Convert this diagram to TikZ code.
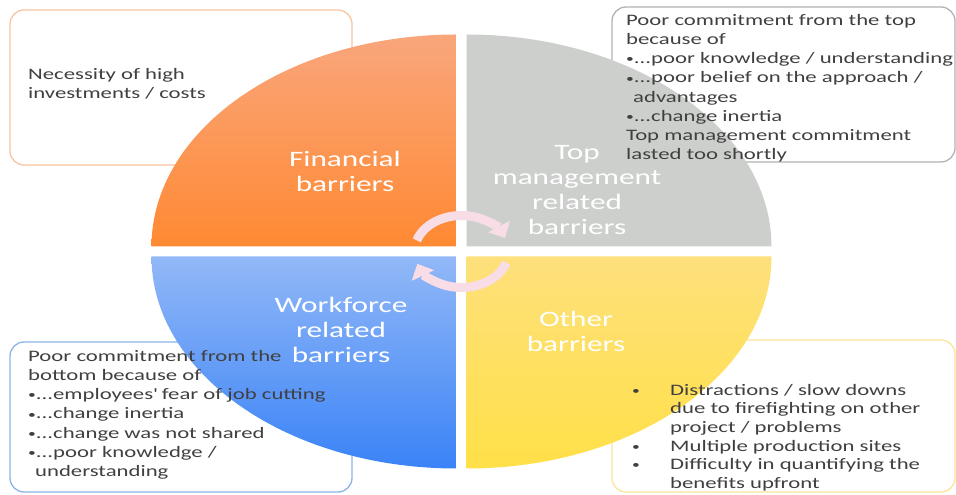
\documentclass[tikz,border=0pt]{standalone}
\usepackage{fontspec}
\setmainfont{Carlito}[FakeStretch=1.42]
\usepackage{xcolor}
\usetikzlibrary{positioning,arrows.meta}

\definecolor{finlight}{RGB}{249,166,124}
\definecolor{findark}{RGB}{255,137,50}
\definecolor{mgmtgray}{RGB}{204,207,204}
\definecolor{worklight}{RGB}{146,184,247}
\definecolor{workdark}{RGB}{58,131,247}
\definecolor{othlight}{RGB}{254,224,124}
\definecolor{othdark}{RGB}{255,224,72}
\definecolor{notegray}{RGB}{64,64,64}
\definecolor{cyclepink}{RGB}{248,221,230}

% small bullet used in the notes
\newcommand{\nb}{{\fontsize{11}{11}\selectfont\raisebox{0.8pt}{•}}}

\tikzset{
  notebox/.style={line width=1.3pt, rounded corners=14pt, fill=white},
  notetext/.style={text=notegray, font=\fontsize{16}{19.2}\selectfont, align=left, anchor=north west, inner sep=0pt},
  quadtext/.style={text=white, font=\fontsize{22}{25}\selectfont, align=center, inner sep=0pt},
  cyclearrow/.style={cyclepink, line width=9pt, -{Triangle[width=24pt,length=13pt]}}
}

\begin{document}
\begin{tikzpicture}[x=1pt,y=1pt]
\useasboundingbox (0,0) rectangle (956,495);

% boxes behind the wheel
\draw[notebox, draw={rgb,255:red,249;green,196;blue,160}] (10,330) rectangle (352,485);
\draw[notebox, draw={rgb,255:red,178;green,178;blue,178}] (612,333) rectangle (955,488);
\draw[notebox, draw={rgb,255:red,140;green,180;blue,232}] (10,3) rectangle (352,153);
\draw[notebox, draw={rgb,255:red,252;green,228;blue,152}] (612,3) rectangle (955,155);

% the four quarters
\shade[top color=finlight, bottom color=findark] (456.5,248.5) -- ++(-305,0)
  arc[start angle=180, end angle=90, x radius=305, y radius=212] -- cycle;
\fill[mgmtgray] (466.5,248.5) -- ++(0,212)
  arc[start angle=90, end angle=0, x radius=305, y radius=212] -- cycle;
\shade[top color=worklight, bottom color=workdark] (456.5,238.5) -- ++(0,-212)
  arc[start angle=270, end angle=180, x radius=305, y radius=212] -- cycle;
\shade[top color=othlight, bottom color=othdark] (466.5,238.5) -- ++(305,0)
  arc[start angle=0, end angle=-90, x radius=305, y radius=212] -- cycle;

% quarter labels
\node[quadtext] (fin) at (345,324) {Financial\\barriers};
\node[quadtext] (mgmt) at (577,305) {Top\\management\\related\\barriers};
\node[quadtext] (work) at (341,165) {Workforce\\related\\barriers};
\node[quadtext] (other) at (576,164) {Other\\barriers};

% cycle in the middle
\coordinate (hub) at (461.5,243.5);
\draw[cyclearrow] ([shift={(162:47 and 36)}]hub)
  arc[start angle=162, end angle=22, x radius=47, y radius=36];
\draw[cyclearrow] ([shift={(-18:47 and 36)}]hub)
  arc[start angle=-18, end angle=-160, x radius=47, y radius=36];

% box texts
\node[notetext] (fintxt) at (28,427) {Necessity of high\\investments / costs};
\node[notetext] (mgmttxt) at (626,481) {Poor commitment from the top\\because of\\
  \nb...poor knowledge / understanding\\\nb...poor belief on the approach /\\
  \hspace*{7pt}advantages\\\nb...change inertia\\Top management commitment\\lasted too shortly};
\node[notetext] (worktxt) at (28,145) {Poor commitment from the\\bottom because of\\
  \nb...employees\textquotesingle\ fear of job cutting\\\nb...change inertia\\\nb...change was not shared\\
  \nb...poor knowledge /\\\hspace*{7pt}understanding};
\node[notetext, font=\fontsize{16}{18.6}\selectfont] (othertxt) at (632,111) {%
  \makebox[38pt][l]{\nb}Distractions / slow downs\\
  \hspace*{38pt}due to firefighting on other\\
  \hspace*{38pt}project / problems\\
  \makebox[38pt][l]{\nb}Multiple production sites\\
  \makebox[38pt][l]{\nb}Difficulty in quantifying the\\
  \hspace*{38pt}benefits upfront};
\end{tikzpicture}
\end{document}
